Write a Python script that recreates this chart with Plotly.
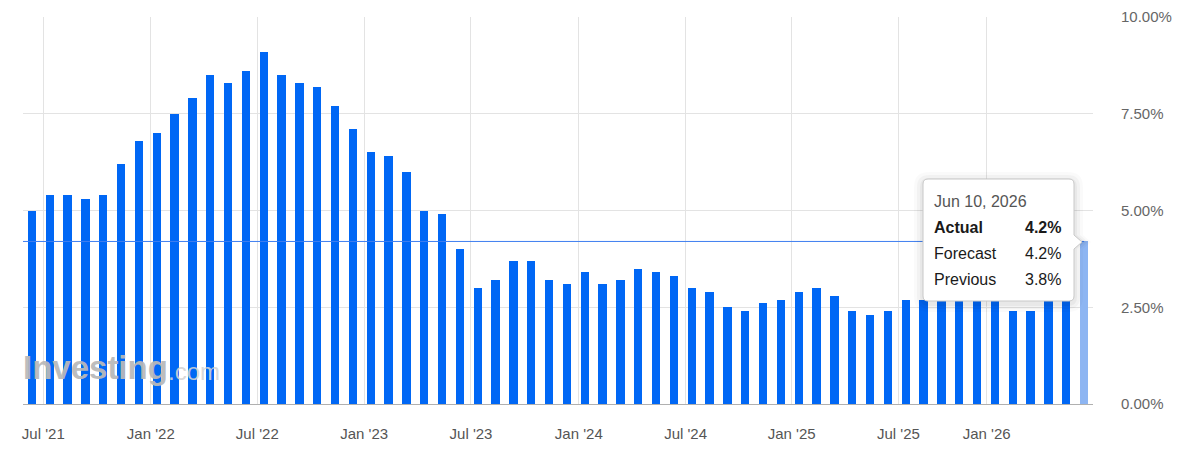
import numpy as np
import pandas as pd
import plotly.graph_objects as go

# ---------------- data ----------------
release_dates = [
    "2021-06-10", "2021-07-13", "2021-08-11", "2021-09-14", "2021-10-13", "2021-11-10", "2021-12-10",
    "2022-01-12", "2022-02-10", "2022-03-10", "2022-04-12", "2022-05-11", "2022-06-10", "2022-07-13",
    "2022-08-10", "2022-09-13", "2022-10-13", "2022-11-10", "2022-12-13",
    "2023-01-12", "2023-02-14", "2023-03-14", "2023-04-12", "2023-05-10", "2023-06-13", "2023-07-12",
    "2023-08-10", "2023-09-13", "2023-10-12", "2023-11-14", "2023-12-12",
    "2024-01-11", "2024-02-13", "2024-03-12", "2024-04-10", "2024-05-15", "2024-06-12", "2024-07-11",
    "2024-08-14", "2024-09-11", "2024-10-10", "2024-11-13", "2024-12-11",
    "2025-01-15", "2025-02-12", "2025-03-12", "2025-04-10", "2025-05-13", "2025-06-11", "2025-07-15",
    "2025-08-12", "2025-09-11", "2025-10-24", "2025-12-18",
    "2026-01-13", "2026-02-11", "2026-03-11", "2026-04-10", "2026-05-12", "2026-06-10",
]
actual_values = [
    5.0, 5.4, 5.4, 5.3, 5.4, 6.2, 6.8,
    7.0, 7.5, 7.9, 8.5, 8.3, 8.6, 9.1, 8.5, 8.3, 8.2, 7.7, 7.1,
    6.5, 6.4, 6.0, 5.0, 4.9, 4.0, 3.0, 3.2, 3.7, 3.7, 3.2, 3.1,
    3.4, 3.1, 3.2, 3.5, 3.4, 3.3, 3.0, 2.9, 2.5, 2.4, 2.6, 2.7,
    2.9, 3.0, 2.8, 2.4, 2.3, 2.4, 2.7, 2.7, 2.9, 3.0, 2.7,
    2.7, 2.4, 2.4, 3.3, 3.8, 4.2,
]
tick_dates = ["2021-07-01", "2022-01-01", "2022-07-01", "2023-01-01", "2023-07-01",
              "2024-01-01", "2024-07-01", "2025-01-01", "2025-07-01", "2026-01-01"]
tick_labels = ["Jul '21", "Jan '22", "Jul '22", "Jan '23", "Jul '23",
               "Jan '24", "Jul '24", "Jan '25", "Jul '25", "Jan '26"]
y_ticks = [0, 2.5, 5, 7.5, 10]
y_tick_labels = ["0.00%", "2.50%", "5.00%", "7.50%", "10.00%"]

tooltip_date = "Jun 10, 2026"
tooltip_forecast = 4.2

# ---------------- ordinal axis positions ----------------
idx = np.arange(len(release_dates))
rel_ord = pd.to_datetime(release_dates).map(pd.Timestamp.toordinal).to_numpy(dtype=float)
tick_ord = pd.to_datetime(tick_dates).map(pd.Timestamp.toordinal).to_numpy(dtype=float)
tick_pos = np.interp(tick_ord, rel_ord, idx)

BLUE = "#0067f5"
LIGHT = "#8db5f2"
colors = [BLUE] * (len(actual_values) - 1) + [LIGHT]

FONT = "Liberation Sans, Arial, sans-serif"

# page has an 8px body margin: figure is placed at (8, 8) on screen
OFF = 8
FIG_W, FIG_H = 1184, 450
# plot area in screen pixels
L, R, T, B = 23, 1093, 17, 404

fig = go.Figure()
fig.add_trace(go.Bar(
    x=idx, y=actual_values, width=0.47,
    marker=dict(color=colors, line=dict(width=0)),
    hoverinfo="skip",
))

def px(x):
    return (x - L) / (R - L)
def py(y):
    return (B - y) / (B - T)

shapes = []
shapes.append(dict(type="line", xref="x", yref="y", x0=-0.5, x1=idx[-1],
                   y0=actual_values[-1], y1=actual_values[-1],
                   line=dict(color="#3f7ff0", width=1), layer="above"))

def tip_path(l, r, t, b, rad, tip_y, tip_x):
    return (f"M {px(l+rad)},{py(t)} L {px(r-rad)},{py(t)} "
            f"Q {px(r)},{py(t)} {px(r)},{py(t+rad)} "
            f"L {px(r)},{py(tip_y-7)} L {px(tip_x)},{py(tip_y)} L {px(r)},{py(tip_y+7)} "
            f"L {px(r)},{py(b-rad)} Q {px(r)},{py(b)} {px(r-rad)},{py(b)} "
            f"L {px(l+rad)},{py(b)} Q {px(l)},{py(b)} {px(l)},{py(b-rad)} "
            f"L {px(l)},{py(t+rad)} Q {px(l)},{py(t)} {px(l+rad)},{py(t)} Z")

for k, a in [(9, 0.02), (6, 0.03), (3, 0.04)]:
    shapes.append(dict(type="path", xref="paper", yref="paper",
                       path=tip_path(923 - k, 1074 + k, 179 - k + 2, 301 + k + 2, 6 + k, 242, 1082 + k),
                       fillcolor=f"rgba(0,0,0,{a})", line=dict(width=0), layer="above"))
shapes.append(dict(type="path", xref="paper", yref="paper",
                   path=tip_path(923, 1074, 179, 301, 5, 242, 1082),
                   fillcolor="white", line=dict(color="#c8c8c8", width=1), layer="above"))

annotations = [
    dict(xref="paper", yref="paper", x=px(21), y=py(367), xanchor="left", yanchor="middle",
         text="<b>Investing</b>", showarrow=False,
         font=dict(family=FONT, size=33, color="rgba(185,185,185,0.95)")),
    dict(xref="paper", yref="paper", x=px(166), y=py(371), xanchor="left", yanchor="middle",
         text=".com", showarrow=False,
         font=dict(family=FONT, size=24, color="rgba(212,212,212,0.9)")),
    dict(xref="paper", yref="paper", x=px(932), y=py(201), xanchor="left", yanchor="middle",
         text=tooltip_date, showarrow=False, font=dict(family=FONT, size=16, color="#555555")),
]
rows = [("<b>Actual</b>", f"<b>{actual_values[-1]:.1f}%</b>", 227),
        ("Forecast", f"{tooltip_forecast:.1f}%", 253),
        ("Previous", f"{actual_values[-2]:.1f}%", 279)]
for lab, val, yy in rows:
    annotations.append(dict(xref="paper", yref="paper", x=px(932), y=py(yy), xanchor="left",
                            yanchor="middle", text=lab, showarrow=False,
                            font=dict(family=FONT, size=16, color="#1a1a1a")))
    annotations.append(dict(xref="paper", yref="paper", x=px(1063), y=py(yy), xanchor="right",
                            yanchor="middle", text=val, showarrow=False,
                            font=dict(family=FONT, size=16, color="#1a1a1a")))

fig.update_layout(
    width=FIG_W, height=FIG_H,
    margin=dict(l=L - OFF, r=FIG_W - (R - OFF), t=T - OFF, b=FIG_H - (B - OFF), pad=0,
                autoexpand=False),
    paper_bgcolor="white", plot_bgcolor="white",
    showlegend=False, hovermode=False, bargap=0,
    font=dict(family=FONT),
    shapes=shapes, annotations=annotations,
    xaxis=dict(range=[-0.5, len(release_dates) - 0.5], tickmode="array",
               tickvals=tick_pos, ticktext=tick_labels,
               showgrid=True, gridcolor="#e3e3e3", gridwidth=1,
               zeroline=False, showline=False, ticks="", automargin=False,
               tickfont=dict(family=FONT, size=15, color="#555555"),
               ticklabelstandoff=19, fixedrange=True),
    yaxis=dict(range=[0, 10], side="right", tickmode="array", tickvals=y_ticks,
               ticktext=y_tick_labels, automargin=False,
               showgrid=True, gridcolor="#e3e3e3", gridwidth=1,
               zeroline=True, zerolinecolor="#b0b0b0", zerolinewidth=1,
               showline=False, ticks="",
               tickfont=dict(family=FONT, size=15, color="#666666"),
               ticklabelstandoff=27, fixedrange=True),
)

fig.write_html("out.html", config={"displayModeBar": False})
